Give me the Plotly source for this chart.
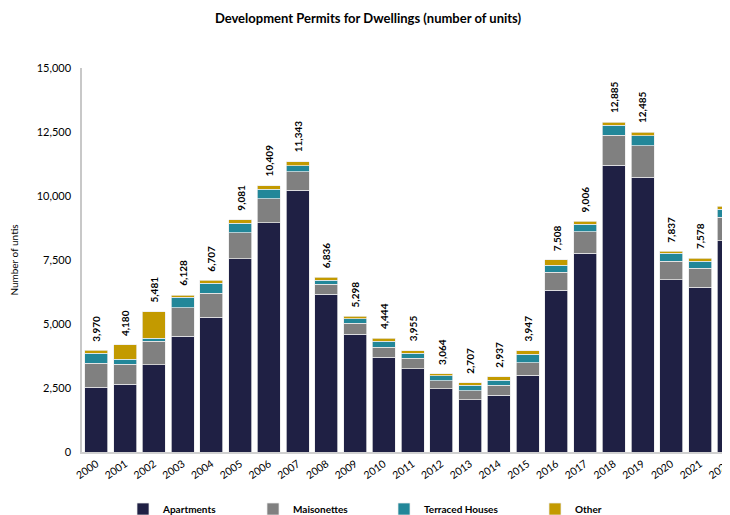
import plotly.graph_objects as go

years = [str(y) for y in range(2000, 2023)]
apartments = [2530, 2650, 3400, 4520, 5260, 7540, 8950, 10230, 6160, 4600, 3710, 3260,
              2480, 2040, 2210, 3000, 6320, 7760, 11210, 10730, 6730, 6430, 8260]
maisonettes = [940, 780, 930, 1110, 950, 1030, 950, 710, 390, 420, 390, 400,
               300, 350, 400, 480, 710, 840, 1170, 1230, 730, 750, 910]
terraced = [380, 200, 120, 410, 380, 370, 360, 250, 160, 180, 230, 200,
            200, 220, 200, 340, 260, 290, 380, 390, 300, 280, 320]
other = [120, 550, 1031, 88, 117, 141, 149, 153, 126, 98, 114, 95,
         84, 97, 127, 127, 218, 116, 125, 135, 77, 118, 108]
totals = [3970, 4180, 5481, 6128, 6707, 9081, 10409, 11343, 6836, 5298, 4444, 3955,
          3064, 2707, 2937, 3947, 7508, 9006, 12885, 12485, 7837, 7578, 9598]
y_ticks = [0, 2500, 5000, 7500, 10000, 12500, 15000]

series = [
    ("Apartments", apartments, "#1F2044", "legend"),
    ("Maisonettes", maisonettes, "#808080", "legend2"),
    ("Terraced Houses", terraced, "#228799", "legend3"),
    ("Other", other, "#C39A00", "legend4"),
]

FONT = "Lato, Liberation Sans, sans-serif"
# page body has an 8px margin; figure is sized to the remaining visible window
FW, FH = 722, 507
L = 74
T = 60
B = 63
W = FW - L

fig = go.Figure()
for name, vals, color, lg in series:
    fig.add_trace(go.Bar(
        x=years, y=vals, name=name, legend=lg,
        marker=dict(color=color, line=dict(color="rgba(235,235,235,0.9)", width=0.8)),
    ))

for i, t in enumerate(totals):
    fig.add_annotation(
        x=i, y=t, text="<b>{:,}</b>".format(t), textangle=-90,
        showarrow=False, yanchor="bottom", yshift=7,
        font=dict(size=10, color="#000000", family=FONT),
    )

def px(x):
    return (x - L) / W

legend_common = dict(orientation="h", yanchor="middle", y=-(501 - (FH - B)) / (FH - T - B),
                     xanchor="left",
                     font=dict(size=10, color="#000000", family=FONT, weight="bold"),
                     bgcolor="rgba(0,0,0,0)", itemclick=False)
text_starts = [155, 285, 416, 567]  # figure px where legend text should start
fig.update_layout(
    legend=dict(x=px(text_starts[0] - 40), **legend_common),
    legend2=dict(x=px(text_starts[1] - 40), **legend_common),
    legend3=dict(x=px(text_starts[2] - 40), **legend_common),
    legend4=dict(x=px(text_starts[3] - 40), **legend_common),
)

fig.update_layout(
    barmode="stack",
    bargap=0.2,
    width=FW, height=FH,
    margin=dict(l=L, r=0, t=T, b=B, autoexpand=False),
    paper_bgcolor="white", plot_bgcolor="white",
    font=dict(family=FONT, color="#000000"),
    title=dict(text="<b>Development Permits for Dwellings (number of units)</b>",
               x=360 / FW, xref="container", xanchor="center",
               y=1 - 10 / FH, yref="container", yanchor="middle",
               font=dict(size=13, family=FONT, color="#000000")),
    showlegend=True,
)

fig.update_xaxes(
    type="category", range=[-0.5, 22.04], tickangle=-35,
    showline=True, linecolor="#D0D0D0", linewidth=1.5,
    ticks="", showgrid=False, tickfont=dict(size=10.5, family=FONT, color="#000000"),
)
fig.update_yaxes(
    range=[0, 15000], tickvals=y_ticks, tickformat=",d",
    showline=True, linecolor="#C8C8C8", linewidth=1.5,
    ticks="outside", ticklen=7, tickcolor="rgba(0,0,0,0)",
    showgrid=False, zeroline=False,
    tickfont=dict(size=11, family=FONT, color="#000000"),
    title=dict(text="Number of untis", font=dict(size=10, family=FONT, color="#000000"), standoff=16),
)

fig.write_html("out.html")
